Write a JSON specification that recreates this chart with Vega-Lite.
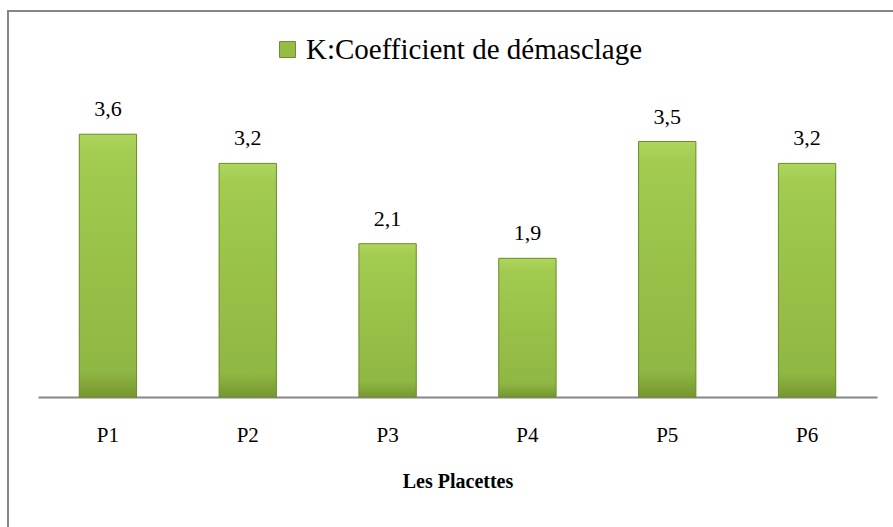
{
  "$schema": "https://vega.github.io/schema/vega-lite/v6.json",
  "autosize": {"type": "none"},
  "padding": {"left": 8, "top": 11, "right": -10, "bottom": -14},
  "width": 895,
  "height": 530,
  "background": "white",
  "config": {
    "font": "Liberation Serif, Times New Roman, serif",
    "view": {"stroke": "#868686", "strokeWidth": 2, "fill": "white"},
    "locale": {"number": {"decimal": ",", "thousands": " ", "grouping": [3], "currency": ["", " €"]}}
  },
  "data": {"values": [
    {"placette": "P1", "k": 3.6},
    {"placette": "P2", "k": 3.2},
    {"placette": "P3", "k": 2.1},
    {"placette": "P4", "k": 1.9},
    {"placette": "P5", "k": 3.5},
    {"placette": "P6", "k": 3.2}
  ]},
  "encoding": {
    "x": {
      "field": "placette", "type": "nominal", "sort": null,
      "scale": {"range": [30, 869], "paddingInner": 0.59, "paddingOuter": 0.295},
      "axis": {
        "title": "Les Placettes", "titleFont": "Liberation Serif, Times New Roman, serif", "titleFontSize": 20, "titleFontWeight": "bold", "titleColor": "black", "titlePadding": 26,
        "labelAngle": 0, "labelFont": "Liberation Serif, Times New Roman, serif", "labelFontSize": 21, "labelColor": "black", "labelPadding": 27,
        "ticks": false, "tickSize": 0, "grid": false,
        "domainColor": "#868686", "domainWidth": 2, "offset": -144
      }
    },
    "y": {
      "field": "k", "type": "quantitative",
      "scale": {"domain": [0, 5], "range": [386, 21], "nice": false},
      "axis": null
    }
  },
  "layer": [
    {
      "mark": {"type": "bar"},
      "encoding": {
        "fill": {
          "datum": "K:Coefficient de démasclage",
          "scale": {"range": ["#93bd44"]},
          "legend": {
            "title": null, "orient": "none", "legendX": 265, "legendY": 24, "padding": 0,
            "symbolType": "square", "symbolSize": 256, "symbolStrokeWidth": 1, "symbolStrokeColor": "#6f8f2e",
            "labelFont": "Liberation Serif, Times New Roman, serif", "labelFontSize": 29, "labelColor": "black", "labelOffset": 4, "labelLimit": 500
          }
        }
      }
    },
    {
      "mark": {
        "type": "bar", "stroke": "#6e8e2c", "strokeWidth": 1,
        "color": {
          "gradient": "linear", "x1": 0, "y1": 0, "x2": 0, "y2": 1,
          "stops": [
            {"offset": 0, "color": "#aed65e"},
            {"offset": 0.08, "color": "#a2cb50"},
            {"offset": 0.9, "color": "#8fb743"},
            {"offset": 1, "color": "#76972f"}
          ]
        }
      }
    },
    {
      "mark": {"type": "text", "font": "Liberation Serif, Times New Roman, serif", "fontSize": 22, "color": "black", "baseline": "alphabetic", "dy": -18},
      "encoding": {
        "text": {"field": "k", "type": "quantitative", "format": ".1f"}
      }
    }
  ]
}
